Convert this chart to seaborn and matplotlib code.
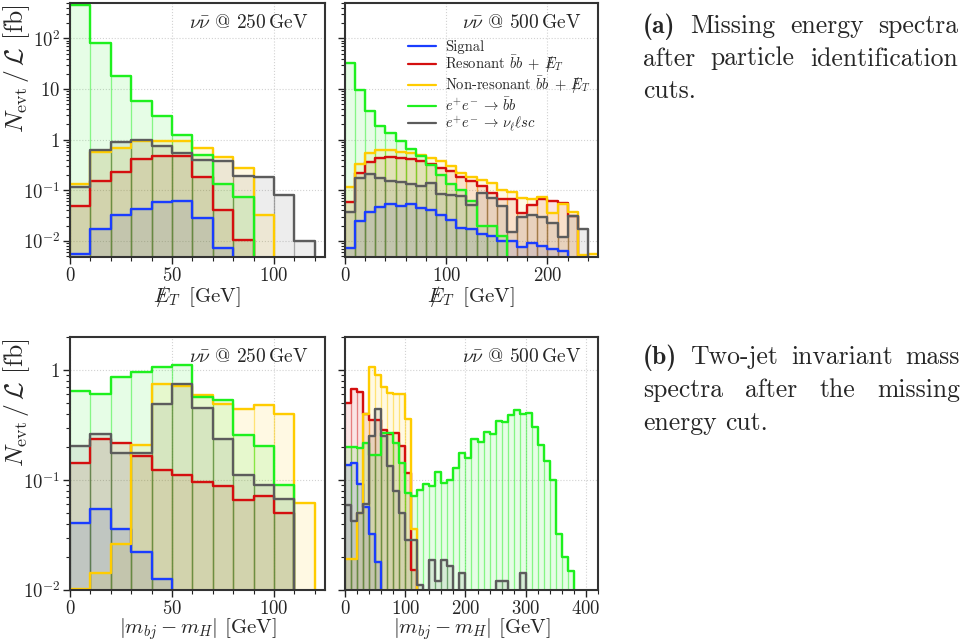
import numpy as np
import pandas as pd
import matplotlib
matplotlib.use("Agg")
import matplotlib.pyplot as plt
import matplotlib.ticker as mticker
from matplotlib.colors import to_rgba
from matplotlib.lines import Line2D
import seaborn as sns

# ---------------- data (events / luminosity [fb], 10 GeV bins starting at 0) ----------------
BIN_WIDTH = 10

# (a) missing transverse energy, nu nubar @ 250 GeV
met250_signal = [0.0056, 0.0175, 0.032, 0.043, 0.058, 0.061, 0.028, 0.0073, 0, 0, 0, 0, 0]
met250_res    = [0.048, 0.155, 0.226, 0.41, 0.47, 0.47, 0.18, 0.041, 0.0103, 0, 0, 0, 0]
met250_nonres = [0.135, 0.56, 0.68, 0.93, 0.93, 0.93, 0.68, 0.455, 0.275, 0.033, 0, 0, 0]
met250_bb     = [460, 81, 17.8, 5.7, 2.98, 1.25, 0.506, 0.133, 0.074, 0, 0, 0, 0]
met250_nlsc   = [0.116, 0.61, 0.89, 0.97, 0.74, 0.55, 0.40, 0.385, 0.195, 0.18, 0.082, 0.01, 0]

# (a) missing transverse energy, nu nubar @ 500 GeV
met500_signal = [0.0073, 0.0245, 0.038, 0.046, 0.054, 0.048, 0.054, 0.045, 0.040, 0.033,
                 0.026, 0.018, 0.0168, 0.0137, 0.0123, 0.0098, 0.0098, 0.0076, 0.0089, 0.0079,
                 0.0068, 0.0063, 0, 0, 0]
met500_res    = [0.058, 0.22, 0.36, 0.435, 0.455, 0.435, 0.415, 0.385, 0.336, 0.276,
                 0.237, 0.18, 0.15, 0.12, 0.089, 0.067, 0.067, 0.036, 0.05, 0.066,
                 0.062, 0.056, 0.031, 0, 0]
met500_nonres = [0.115, 0.336, 0.545, 0.61, 0.61, 0.58, 0.55, 0.49, 0.435, 0.37,
                 0.30, 0.22, 0.18, 0.157, 0.14, 0.10, 0.091, 0.07, 0.066, 0.072,
                 0.036, 0.054, 0.038, 0.0053, 0.0055]
met500_bb     = [32, 9.5, 3.6, 1.85, 1.35, 0.95, 0.65, 0.48, 0.32, 0.2,
                 0.13, 0.10, 0.062, 0.02, 0.02, 0.0123, 0, 0, 0, 0,
                 0, 0, 0, 0, 0]
met500_nlsc   = [0.038, 0.175, 0.21, 0.175, 0.15, 0.146, 0.13, 0.12, 0.14, 0.086,
                 0.082, 0.078, 0.052, 0.089, 0.069, 0.048, 0.015, 0.03, 0.033, 0.029,
                 0.023, 0.012, 0.031, 0.017, 0]

# (b) |m_bj - m_H|, nu nubar @ 250 GeV
mbj250_signal = [0.041, 0.054, 0.036, 0.022, 0.0125, 0, 0, 0, 0, 0, 0, 0, 0]
mbj250_res    = [0.144, 0.235, 0.218, 0.166, 0.123, 0.11, 0.095, 0.088, 0.066, 0.072, 0.05, 0, 0]
mbj250_nonres = [0.0102, 0.0142, 0.026, 0.208, 0.74, 0.72, 0.59, 0.49, 0.44, 0.48, 0.40, 0.062, 0]
mbj250_bb     = [0.65, 0.605, 0.86, 0.966, 1.07, 1.11, 0.57, 0.53, 0.256, 0.204, 0.091, 0, 0]
mbj250_nlsc   = [0.205, 0.26, 0.177, 0.177, 0.49, 0.746, 0.45, 0.236, 0.111, 0.091, 0.067, 0, 0]

# (b) |m_bj - m_H|, nu nubar @ 500 GeV
mbj500_signal = [0.137, 0.142, 0.093, 0.057, 0.032, 0.018, 0, 0, 0, 0,
                 0, 0, 0, 0, 0, 0, 0, 0, 0, 0,
                 0, 0, 0, 0, 0, 0, 0, 0, 0, 0,
                 0, 0, 0, 0, 0, 0, 0, 0, 0, 0,
                 0, 0]
mbj500_res    = [0.505, 0.68, 0.63, 0.40, 0.351, 0.351, 0.288, 0.26, 0.27, 0.204,
                 0.115, 0.0152, 0, 0, 0, 0, 0, 0, 0, 0,
                 0, 0, 0, 0, 0, 0, 0, 0, 0, 0,
                 0, 0, 0, 0, 0, 0, 0, 0, 0, 0,
                 0, 0]
mbj500_nonres = [0.019, 0.019, 0.050, 0.40, 1.07, 0.90, 0.705, 0.62, 0.61, 0.61,
                 0.36, 0.036, 0, 0, 0, 0, 0, 0, 0, 0,
                 0, 0, 0, 0, 0, 0, 0, 0, 0, 0,
                 0, 0, 0, 0, 0, 0, 0, 0, 0, 0,
                 0, 0]
mbj500_bb     = [0.20, 0.20, 0.195, 0.215, 0.169, 0.169, 0.27, 0.27, 0.215, 0.144,
                 0.077, 0.072, 0.082, 0.092, 0.089, 0.119, 0.094, 0.10, 0.128, 0.175,
                 0.16, 0.238, 0.222, 0.275, 0.26, 0.346, 0.335, 0.39, 0.43, 0.40,
                 0.41, 0.305, 0.21, 0.149, 0.10, 0.032, 0.020, 0.015, 0, 0,
                 0, 0]
mbj500_nlsc   = [0.059, 0.042, 0.05, 0.06, 0.25, 0.44, 0.25, 0.134, 0.08, 0.05,
                 0.0285, 0.0285, 0.011, 0, 0.0187, 0.012, 0.0187, 0.0166, 0, 0.0142,
                 0, 0, 0, 0, 0, 0.012, 0.012, 0, 0, 0.0142,
                 0, 0, 0, 0, 0, 0, 0, 0, 0, 0,
                 0, 0]

legend_labels = [
    "Signal",
    r"Resonant $\bar{b}b\;+\;/\!\!\!\!E_T$",
    r"Non-resonant $\bar{b}b\;+\;/\!\!\!\!E_T$",
    r"$e^{+}e^{-} \,\to\, \bar{b}b$",
    r"$e^{+}e^{-} \,\to\, \nu_\ell \ell s c$",
]
colors = ["#1a3dff", "#d40f0f", "#ffcc00", "#1ef01e", "#5c5c5c"]

# ---------------- style ----------------
sns.set_style("ticks")
plt.rcParams["font.family"] = ["cmr10"]
plt.rcParams["mathtext.fontset"] = "cm"
plt.rcParams["axes.formatter.use_mathtext"] = True

W, H = 967, 644
fig = plt.figure(figsize=(W / 100, H / 100), dpi=100)


def rect(x0, y0, x1, y1):
    return [x0 / W, 1 - y1 / H, (x1 - x0) / W, (y1 - y0) / H]


ax_tl = fig.add_axes(rect(70, 3, 325, 257))
ax_tr = fig.add_axes(rect(345, 3, 598, 257))
ax_bl = fig.add_axes(rect(70, 337, 325, 590))
ax_br = fig.add_axes(rect(345, 337, 598, 590))


def ylab(v, pos):
    e = int(round(np.log10(v)))
    if e == 0:
        return r"$1$"
    if e == 1:
        return r"$10$"
    return r"$10^{%d}$" % e


def draw_panel(ax, series, xmax, ylim, major, minor, note, xlabel, xpad, show_y):
    n = len(series[0])
    centers = (np.arange(n) + 0.5) * BIN_WIDTH
    ax.set_yscale("log")
    frames = [pd.DataFrame({"x": centers, "w": np.asarray(v, dtype=float)}) for v in series]
    for df, c in zip(frames, colors):
        sns.histplot(data=df, x="x", weights="w", binwidth=BIN_WIDTH, binrange=(0, n * BIN_WIDTH),
                     element="bars", fill=True, color=c, alpha=0.11,
                     edgecolor=to_rgba(c, 0.28), linewidth=0.9, ax=ax)
    for df, c in zip(frames, colors):
        sns.histplot(data=df, x="x", weights="w", binwidth=BIN_WIDTH, binrange=(0, n * BIN_WIDTH),
                     element="step", fill=False, color=c, linewidth=1.7, ax=ax)
    ax.set_xlim(0, xmax)
    ax.set_ylim(*ylim)
    ax.xaxis.set_major_locator(mticker.MultipleLocator(major))
    ax.xaxis.set_minor_locator(mticker.MultipleLocator(minor))
    ax.yaxis.set_major_locator(mticker.LogLocator(base=10))
    ax.yaxis.set_minor_locator(mticker.LogLocator(base=10, subs=np.arange(2, 10)))
    ax.yaxis.set_major_formatter(mticker.FuncFormatter(ylab))
    ax.yaxis.set_minor_formatter(mticker.NullFormatter())
    ax.xaxis.set_major_formatter(mticker.FuncFormatter(lambda v, p: r"$%d$" % v))
    ax.grid(True, which="major", ls=":", color="#d2d2d2", lw=0.8)
    ax.set_axisbelow(True)
    for s in ax.spines.values():
        s.set_linewidth(1.5)
        s.set_color("#333333")
        s.set_visible(True)
    ax.tick_params(which="major", direction="out", length=5, width=1, color="#222222",
                   labelsize=13.5, pad=2)
    ax.tick_params(which="minor", direction="out", length=2.6, width=0.8, color="#222222")
    ax.set_xlabel(xlabel, fontsize=15, labelpad=xpad)
    if show_y:
        ax.set_ylabel(r"$N_{\rm evt}\,/\,\mathcal{L}$ [fb]", fontsize=18.5, loc="top")
        ax.yaxis.set_label_coords(-0.148, 0.995)
    else:
        ax.set_ylabel("")
        ax.tick_params(labelleft=False)
    ax.text(0.935, 0.92, note, transform=ax.transAxes, ha="right", va="center", fontsize=14)


met_label = r"$/\!\!\!\!E_T$ $\,$[GeV]"
mbj_label = r"$|m_{bj} - m_H|$ [GeV]"

draw_panel(ax_tl, [met250_signal, met250_res, met250_nonres, met250_bb, met250_nlsc],
           125, (4.8e-3, 500), 50, 10, r"$\nu\bar{\nu}$ @ 250$\,$GeV", met_label, -0.5, True)
draw_panel(ax_tr, [met500_signal, met500_res, met500_nonres, met500_bb, met500_nlsc],
           250, (4.8e-3, 500), 100, 20, r"$\nu\bar{\nu}$ @ 500$\,$GeV", met_label, -0.5, False)
draw_panel(ax_bl, [mbj250_signal, mbj250_res, mbj250_nonres, mbj250_bb, mbj250_nlsc],
           125, (1e-2, 2), 50, 10, r"$\nu\bar{\nu}$ @ 250$\,$GeV", mbj_label, -1, True)
draw_panel(ax_br, [mbj500_signal, mbj500_res, mbj500_nonres, mbj500_bb, mbj500_nlsc],
           420, (1e-2, 2), 100, 20, r"$\nu\bar{\nu}$ @ 500$\,$GeV", mbj_label, -1, False)

handles = [Line2D([], [], color=c, lw=1.6) for c in colors]
ax_tr.legend(handles, legend_labels, loc="upper left", bbox_to_anchor=(0.25, 0.855),
             frameon=False, fontsize=10.5, handlelength=1.9, handletextpad=0.6,
             labelspacing=0.0, borderaxespad=0, borderpad=0)

# ---------------- sub-captions (justified, LaTeX-like) ----------------
caption_a = [("(a) Missing energy spectra", True), ("after particle identification", True), ("cuts.", False)]
caption_b = [("(b) Two-jet invariant mass", True), ("spectra after the missing", True), ("energy cut.", False)]

renderer = fig.canvas.get_renderer()


def place_caption(lines, x0, x1, base, step, size):
    for i, (line, justify) in enumerate(lines):
        words = line.split(" ")
        y = 1 - (base + i * step) / H
        texts = []
        for j, w in enumerate(words):
            fam = "cmb10" if (j == 0 and w.startswith("(")) else "cmr10"
            texts.append(fig.text(0, y, w, fontsize=size, family=fam, va="baseline", ha="left"))
        widths = [t.get_window_extent(renderer).width for t in texts]
        if justify and len(words) > 1:
            gap = (x1 - x0 - sum(widths)) / (len(words) - 1)
        else:
            gap = size * 100 / 72 * 0.333
        x = x0
        for t, wd in zip(texts, widths):
            t.set_x(x / W)
            x += wd + gap


place_caption(caption_a, 643, 958, 33, 32.5, 18.5)
place_caption(caption_b, 643, 960, 364, 33, 18.5)

fig.savefig("out.png", dpi=100)
